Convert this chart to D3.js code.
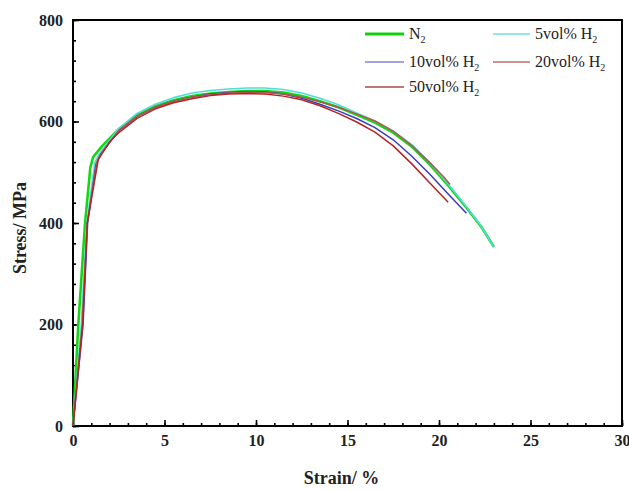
<!DOCTYPE html>
<html>
<head>
<meta charset="utf-8">
<script src="https://cdn.jsdelivr.net/npm/d3@7"></script>
<style>
  body { margin: 0; background: #fff; }
  svg text { font-family: "Liberation Serif", "DejaVu Serif", serif; }
</style>
</head>
<body>
<script>
// series names, legend order
var names = ["N2", "5vol% H2", "10vol% H2", "20vol% H2", "50vol% H2"];
var colors = ["#12d812", "#52dcd8", "#3c3cc0", "#b0584e", "#b02424"];
var legendColors = ["#10d010", "#70dede", "#8484c8", "#b87070", "#a84848"];
var widths = [2.6, 1.6, 1.5, 1.5, 1.5];

// strain (%) / stress (MPa)
var strainN2 = [0, 0.29, 0.66, 0.95, 1.1, 1.6, 2.5, 3.5, 4.5, 5.5, 6.5, 7.5, 8.5, 9.5, 10.5, 11.5, 12.5, 13.5, 14.5, 15.5, 16.5, 17.5, 18.5, 19.5, 20.5, 21.5, 22.3, 23.0];
var stressN2 = [0, 200, 400, 510, 530, 552, 585, 612, 630, 642, 650, 655, 658, 660, 660, 657, 650, 640, 628, 613, 598, 578, 551, 515, 474, 430, 393, 353];

var strain5 = [0, 0.45, 0.75, 1.2, 1.5, 2.5, 3.5, 4.5, 5.5, 6.5, 7.5, 8.5, 9.5, 10.5, 11.5, 12.5, 13.5, 14.5, 15.5, 16.5, 17.5, 18.5, 19.5, 20.5, 21.5, 22.3, 23.0];
var stress5 = [0, 200, 400, 520, 540, 586, 616, 634, 647, 656, 661, 664, 666, 666, 663, 656, 646, 633, 617, 601, 581, 555, 519, 477, 432, 394, 352];

var strain10 = [0, 0.55, 0.8, 1.25, 1.5, 2.5, 3.5, 4.5, 5.5, 6.5, 7.5, 8.5, 9.5, 10.5, 11.5, 12.5, 13.5, 14.5, 15.5, 16.5, 17.5, 18.5, 19.5, 20.5, 21.5];
var stress10 = [0, 200, 400, 515, 535, 582, 610, 628, 640, 648, 654, 657, 659, 658, 654, 646, 634, 621, 606, 588, 564, 532, 496, 457, 419];

var strain20 = [0, 0.5, 0.78, 1.3, 1.6, 2.5, 3.5, 4.5, 5.5, 6.5, 7.5, 8.5, 9.5, 10.5, 11.5, 12.5, 13.5, 14.5, 15.5, 16.5, 17.5, 18.5, 19.5, 20.3, 20.6];
var stress20 = [0, 200, 400, 520, 540, 582, 610, 628, 640, 648, 653, 656, 658, 657, 654, 648, 639, 628, 615, 601, 581, 553, 519, 489, 476];

var strain50 = [0, 0.53, 0.78, 1.38, 2.0, 2.5, 3.5, 4.5, 5.5, 6.5, 7.5, 8.5, 9.5, 10.5, 11.5, 12.5, 13.5, 14.5, 15.5, 16.5, 17.5, 18.5, 19.5, 20.5];
var stress50 = [0, 200, 400, 525, 560, 578, 606, 625, 637, 645, 651, 654, 655, 654, 650, 643, 631, 616, 599, 579, 552, 517, 479, 441];

var strains = [strainN2, strain5, strain10, strain20, strain50];
var stresses = [stressN2, stress5, stress10, stress20, stress50];

var xTicks = [0, 5, 10, 15, 20, 25, 30];
var yTicks = [0, 200, 400, 600, 800];

var width = 629, height = 491;
var margin = {left: 73, top: 20, right: 7, bottom: 65};
var w = width - margin.left - margin.right;
var h = height - margin.top - margin.bottom;

var svg = d3.select("body").append("svg")
    .attr("width", width)
    .attr("height", height);

var g = svg.append("g")
    .attr("transform", "translate(" + margin.left + "," + margin.top + ")");

var x = d3.scaleLinear().domain([0, 30]).range([0, w]);
var y = d3.scaleLinear().domain([0, 800]).range([h, 0]);

// frame
g.append("rect")
    .attr("width", w).attr("height", h)
    .attr("fill", "none").attr("stroke", "#000").attr("stroke-width", 2);

// minor ticks first, then major ticks with labels
g.append("g")
    .attr("transform", "translate(0," + h + ")")
    .call(d3.axisBottom(x).ticks(30).tickSize(-3).tickFormat(""))
    .call(function(s) { s.select(".domain").remove(); });
g.append("g")
    .call(d3.axisLeft(y).tickValues(d3.range(0, 801, 40)).tickSize(-3).tickFormat(""))
    .call(function(s) { s.select(".domain").remove(); });

var xAxis = g.append("g")
    .attr("transform", "translate(0," + h + ")")
    .call(d3.axisBottom(x).tickValues(xTicks).tickSize(-6).tickPadding(9).tickFormat(d3.format("d")));
var yAxis = g.append("g")
    .call(d3.axisLeft(y).tickValues(yTicks).tickSize(-6).tickPadding(10).tickFormat(d3.format("d")));

[xAxis, yAxis].forEach(function(a) {
  a.attr("font-family", "Liberation Serif").attr("font-size", 16);
  a.select(".domain").remove();
  a.selectAll("text")
    .attr("font-weight", "bold").attr("fill", "#222");
});
g.selectAll(".tick line").attr("stroke", "#000").attr("stroke-width", 1.6);

// axis titles
svg.append("text")
    .attr("x", margin.left + w / 2 - 6).attr("y", 484)
    .attr("text-anchor", "middle")
    .attr("font-size", 18).attr("font-weight", "bold").attr("fill", "#222")
    .text("Strain/ %");
svg.append("text")
    .attr("transform", "translate(26," + (margin.top + h / 2 + 5) + ") rotate(-90)")
    .attr("text-anchor", "middle")
    .attr("font-size", 18).attr("font-weight", "bold").attr("fill", "#222")
    .text("Stress/ MPa");

// curves
var line = d3.line()
    .x(function(d) { return x(d[0]); })
    .y(function(d) { return y(d[1]); });

names.forEach(function(n, i) {
  var pts = strains[i].map(function(s, j) { return [s, stresses[i][j]]; });
  g.append("path")
    .datum(pts)
    .attr("d", line)
    .attr("fill", "none")
    .attr("stroke", colors[i])
    .attr("stroke-width", widths[i])
    .attr("stroke-linejoin", "round");
});

// legend
var legPos = [[365, 34], [493, 34], [365, 62], [493, 62], [365, 87]];
var legLen = [39, 37, 39, 37, 39];
names.forEach(function(n, i) {
  var p = legPos[i];
  svg.append("line")
    .attr("x1", p[0]).attr("x2", p[0] + legLen[i])
    .attr("y1", p[1]).attr("y2", p[1])
    .attr("stroke", legendColors[i])
    .attr("stroke-width", i === 0 ? 3 : 1.6);
  var t = svg.append("text")
    .attr("x", p[0] + legLen[i] + 5).attr("y", p[1] + 5)
    .attr("font-size", 16).attr("fill", "#222");
  t.append("tspan").text(n.slice(0, -1));
  t.append("tspan").attr("font-size", 10).attr("dy", 4).text("2");
});
</script>
</body>
</html>
